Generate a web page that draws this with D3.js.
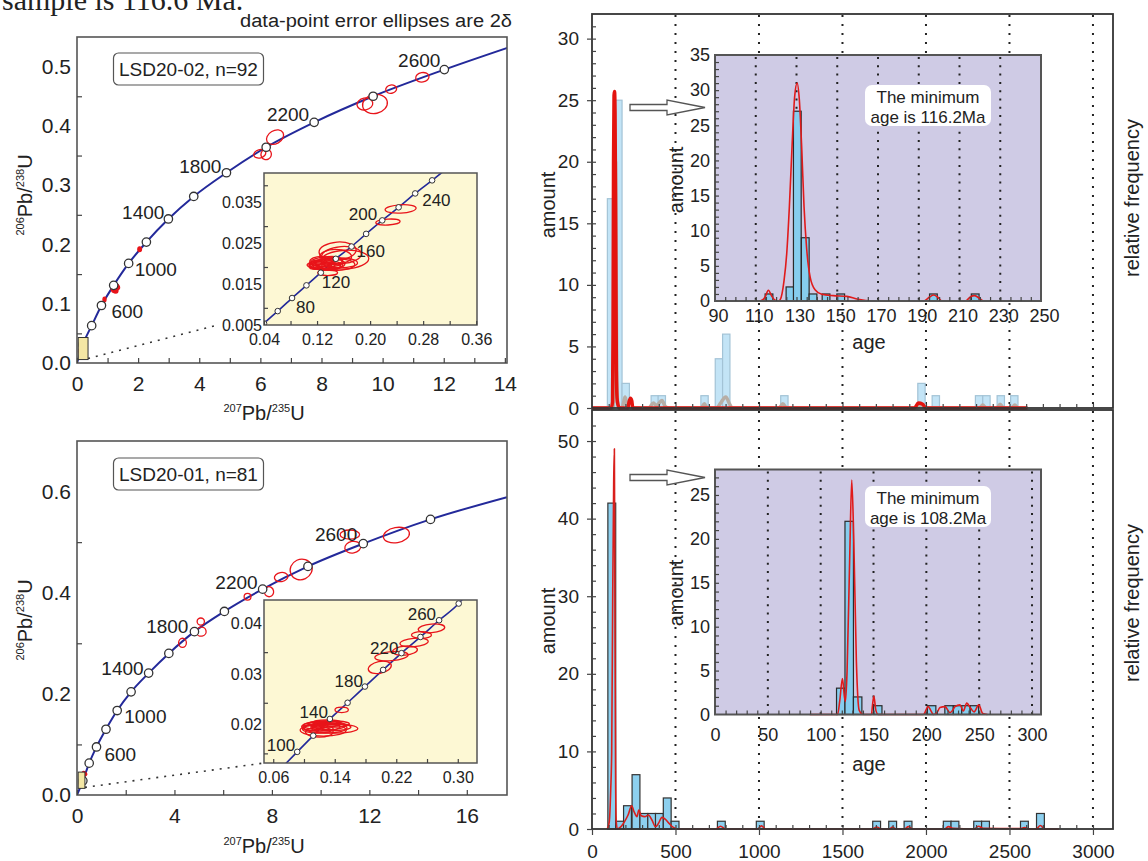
<!DOCTYPE html>
<html lang="en">
<head>
<meta charset="UTF-8">
<title>Concordia diagrams and age histograms</title>
<script src="https://cdn.jsdelivr.net/npm/d3@7"></script>
<style>
    body { margin: 0; background: #fff; }
    svg text { font-family: "Liberation Sans", Arial, sans-serif; fill: #222; }
</style>
</head>
<body>
<script>
// ------------------------------ data : LSD20-02 concordia (upper left) ------------------------------
var ageA = [200, 400, 600, 800, 1000, 1200, 1400, 1600, 1800, 2000, 2200, 2400, 2600];
var markAx = [0.19, 0.48, 0.80, 1.20, 1.69, 2.27, 2.99, 3.82, 4.89, 6.19, 7.76, 9.69, 12.02];
var markAy = [0.031, 0.063, 0.097, 0.131, 0.168, 0.204, 0.243, 0.281, 0.321, 0.364, 0.406, 0.450, 0.495];
var endA = [14.1, 0.532];
// ellipses: cx, cy, rx, ry, tilt
var ellA = [[5.98, 0.353, 0.20, 0.007, -15], [6.19, 0.352, 0.17, 0.009, 20], [6.48, 0.381, 0.30, 0.011, -30],
    [9.42, 0.437, 0.26, 0.010, -10], [9.75, 0.437, 0.41, 0.016, -12], [10.28, 0.462, 0.18, 0.007, -10],
    [11.30, 0.482, 0.22, 0.008, -10]];
var dotsA = [[0.10, 0.020, 0.05, 0.004, 0], [0.90, 0.107, 0.05, 0.004, 0], [2.05, 0.192, 0.06, 0.004, 0],
    [1.22, 0.124, 0.10, 0.005, -20], [1.30, 0.128, 0.09, 0.005, -20], [1.27, 0.122, 0.07, 0.004, 0]];

var ageAi = [40, 60, 80, 100, 120, 140, 160, 180, 200, 220, 240, 260];
var markAix = [0.040, 0.0607, 0.0823, 0.104, 0.1257, 0.1483, 0.172, 0.194, 0.2183, 0.243, 0.268, 0.2935];
var markAiy = [0.0062, 0.0092, 0.0124, 0.0155, 0.0186, 0.0220, 0.0250, 0.0281, 0.0314, 0.0346, 0.0380, 0.0412];
var startAi = [0.03, 0.0047], endAi = [0.315, 0.0440];
var ellAi = [[0.151, 0.0239, 0.028, 0.0022, -4], [0.157, 0.0229, 0.030, 0.0021, -4], [0.148, 0.0225, 0.024, 0.0018, 0],
    [0.135, 0.0212, 0.024, 0.0012, 0], [0.128, 0.0207, 0.020, 0.0011, 0], [0.132, 0.0205, 0.027, 0.0010, 0],
    [0.140, 0.0208, 0.022, 0.0013, 0], [0.125, 0.0203, 0.017, 0.0009, 0], [0.145, 0.0206, 0.032, 0.0015, 0],
    [0.130, 0.0210, 0.014, 0.0008, 0], [0.138, 0.0202, 0.018, 0.0009, 0], [0.120, 0.0206, 0.012, 0.0008, 0],
    [0.162, 0.0218, 0.036, 0.0023, -3], [0.142, 0.0216, 0.016, 0.0010, 0], [0.133, 0.0200, 0.022, 0.0007, 0],
    [0.127, 0.0213, 0.018, 0.0013, 0], [0.136, 0.0186, 0.015, 0.0007, 0], [0.118, 0.0201, 0.010, 0.0007, 0],
    [0.155, 0.0210, 0.026, 0.0012, 0], [0.2269, 0.0310, 0.0184, 0.00073, -3], [0.246, 0.0342, 0.0234, 0.00102, -3]];

// ------------------------------ data : LSD20-01 concordia (lower left) ------------------------------
var ageB = [200, 400, 600, 800, 1000, 1200, 1400, 1600, 1800, 2000, 2200, 2400, 2600, 2800];
var markBx = [0.24, 0.50, 0.80, 1.19, 1.65, 2.22, 2.94, 3.77, 4.82, 6.05, 7.62, 9.48, 11.75, 14.51];
var markBy = [0.028, 0.063, 0.095, 0.130, 0.167, 0.204, 0.241, 0.280, 0.323, 0.363, 0.407, 0.452, 0.497, 0.545];
var endB = [17.65, 0.589];
var ellB = [[4.33, 0.301, 0.16, 0.009, 0], [5.08, 0.343, 0.15, 0.007, 0], [5.10, 0.323, 0.20, 0.009, -10],
    [7.00, 0.392, 0.14, 0.0065, 0], [7.88, 0.402, 0.19, 0.010, -10], [8.38, 0.431, 0.28, 0.009, -10],
    [9.20, 0.446, 0.46, 0.020, -25], [11.20, 0.515, 0.40, 0.009, 0], [11.32, 0.490, 0.33, 0.0115, -10],
    [13.11, 0.514, 0.54, 0.015, -10]];
var dotsB = [[0.15, 0.022, 0.05, 0.004, -55], [0.30, 0.042, 0.08, 0.005, -55], [0.45, 0.062, 0.06, 0.004, -50]];

var ageBi = [100, 120, 140, 160, 180, 200, 220, 240, 260, 280];
var markBix = [0.0912, 0.112, 0.1337, 0.1567, 0.1792, 0.2029, 0.2268, 0.2515, 0.2757, 0.3012];
var markBiy = [0.0153, 0.0185, 0.0218, 0.0250, 0.0282, 0.0315, 0.0348, 0.0380, 0.0413, 0.0446];
var startBi = [0.07, 0.0120], endBi = [0.31, 0.0462];
var ellBi = [[0.122, 0.0203, 0.025, 0.0009, 0], [0.128, 0.0200, 0.028, 0.0010, 0], [0.118, 0.0198, 0.020, 0.0008, 0],
    [0.132, 0.0205, 0.022, 0.0008, 0], [0.125, 0.0196, 0.030, 0.0012, 0], [0.135, 0.0202, 0.026, 0.0007, 0],
    [0.115, 0.0205, 0.016, 0.0007, 0], [0.126, 0.0208, 0.020, 0.0006, 0], [0.140, 0.0199, 0.030, 0.0009, 0],
    [0.120, 0.0192, 0.018, 0.0010, 0], [0.130, 0.0211, 0.018, 0.0005, 0], [0.110, 0.0201, 0.012, 0.0006, 0],
    [0.137, 0.0208, 0.022, 0.0006, 0], [0.149, 0.0236, 0.0087, 0.00053, 0], [0.1986, 0.0320, 0.0152, 0.00115, -12],
    [0.2138, 0.0342, 0.0217, 0.00089, -5], [0.2313, 0.0353, 0.0162, 0.00089, -5], [0.2432, 0.0369, 0.0184, 0.00083, -5],
    [0.2528, 0.0384, 0.0130, 0.00066, 0], [0.2658, 0.0397, 0.0173, 0.00085, -5]];

// ------------------------------ data : age histograms (right) ------------------------------
var topBinStart = [92, 136, 180, 354, 396, 652, 738, 782, 1130, 1951, 2037, 2296, 2340, 2426, 2507];
var topCounts = [17, 25, 2, 1, 1, 1, 4, 6, 1, 2, 1, 1, 1, 1, 1];
var topBinWidth = 44;
var topRed = [[0, 0], [115, 0], [123, 0.5], [126, 6], [129, 20], [132, 25.4], [135, 25.7], [138, 24], [142, 14], [146, 3],
    [150, 0.8], [155, 0.3], [165, 0], [215, 0], [222, 0.5], [230, 0.8], [238, 0.6], [244, 0], [1930, 0], [1955, 0.4],
    [1980, 0.3], [2000, 0], [2608, 0]];
var topGrey = [[0, 0], [125, 0], [133, 3], [137, 14], [141, 20], [144, 14], [148, 3], [153, 0.5], [160, 0], [180, 0],
    [190, 0.5], [198, 0.9], [206, 0.5], [214, 0], [340, 0], [368, 0.4], [385, 0.2], [419, 0.6], [440, 0.1], [460, 0],
    [655, 0], [673, 0.35], [690, 0], [745, 0], [770, 0.4], [801, 0.9], [825, 0.3], [840, 0], [1120, 0], [1143, 0.35],
    [1165, 0], [1950, 0], [1970, 0.35], [1990, 0], [2320, 0], [2340, 0.25], [2360, 0], [2425, 0], [2444, 0.3],
    [2465, 0], [2512, 0], [2532, 0.25], [2550, 0], [2600, 0]];

var botBinStart = [95, 142, 189, 240, 287, 334, 380, 427, 474, 751, 984, 1681, 1777, 1869, 2104, 2150, 2286, 2333, 2566, 2662];
var botCounts = [42, 1, 3, 7, 2, 2, 2, 4, 1, 1, 1, 1, 1, 1, 1, 1, 1, 1, 1, 2];
var botBinWidth = 47;
var botRed = [[90, 0], [100, 0.5], [106, 1.6], [112, 5], [118, 10], [124, 30], [130, 45], [134, 49], [137, 30], [141, 8],
    [145, 1], [152, 0], [173.6, 0.3], [194.9, 0.95], [216, 1.8], [237.5, 3.0], [252.4, 2.2], [269.5, 1.6], [280, 2.45],
    [295, 1.7], [316.4, 1.6], [337.7, 1.8], [359, 1.16], [380.4, 0.3], [397.4, 0.7], [418.8, 1.5], [440, 1.25],
    [461.4, 0.73], [487, 0.2], [515, 0], [740, 0], [770, 0.35], [800, 0], [990, 0], [1015, 0.4], [1040, 0],
    [1680, 0], [1705, 0.25], [1730, 0], [1780, 0], [1800, 0.25], [1820, 0], [1870, 0], [1895, 0.3], [1920, 0],
    [2110, 0], [2135, 0.3], [2160, 0.1], [2290, 0], [2315, 0.35], [2340, 0.1], [2570, 0.05], [2590, 0.2], [2620, 0],
    [2660, 0], [2685, 0.45], [2710, 0], [2796, 0]];

// zoomed insets
var insTopStart = [114.6, 124.9, 128.5, 132.4, 136.2, 142.6, 149.8, 195.3, 215.8];
var insTopCounts = [1, 2, 27, 9, 1, 1, 1, 1, 1];
var insTopWidth = 3.8;
var insTopRed = [[90, 0], [112.1, 0], [114.6, 0.57], [116.2, 1.52], [117.9, 0.66], [119.5, 0.1], [121.1, 0], [122, 0.19],
    [123.9, 2.94], [125.2, 6.74], [126.5, 13.4], [127.8, 21.9], [129.1, 29.1], [130.3, 31.0], [131.4, 28.6],
    [132.6, 21.5], [133.7, 13.4], [135, 7.4], [136.7, 3.4], [139.1, 1.6], [142.4, 0.95], [148.1, 0.76], [154.7, 0.66],
    [159.6, 0.28], [167.8, 0], [192.4, 0], [195.3, 0.57], [197.3, 0.85], [199.2, 0.57], [201.4, 0], [212.9, 0],
    [215.3, 0.57], [217.3, 0.76], [219.4, 0.47], [221.8, 0], [250, 0]];

var insBotStart = [115, 123, 131, 150, 201, 217.5, 225.5, 233.5, 241.5];
var insBotCounts = [3, 22, 2, 1, 1, 1, 1, 1, 1];
var insBotWidth = 8;
var insBotRed = [[89.6, 0], [116, 0], [118, 1.5], [120.6, 4.1], [122.5, 2], [123.5, 1.5], [125, 5], [127.5, 18],
    [129.4, 26.7], [131.3, 20], [133.8, 6], [136.4, 0.5], [140.2, 0], [148, 0], [149, 1], [150.3, 2.1], [152.2, 0.5],
    [154.4, 0], [197.1, 0], [201.8, 0.9], [204, 0.5], [206.6, 0], [210, 0.2], [212.9, 0.8], [217.6, 0.9], [222.4, 0.2],
    [225, 0.5], [227.1, 0.9], [231.9, 1.1], [235, 0.4], [238.2, 1.3], [242, 0.7], [245.2, 0.3], [249.6, 1.1],
    [253.4, 0.1], [257.8, 0]];

// ------------------------------ helpers ------------------------------
var svg = d3.select("body").append("svg").attr("width", 1148).attr("height", 861);
svg.append("rect").attr("width", 1148).attr("height", 861).attr("fill", "#fff");
var defs = svg.append("defs");

function putAxis(parent, gen, tx, ty, fs) {
    var a = parent.append("g").attr("transform", "translate(" + tx + "," + ty + ")").call(gen);
    a.attr("font-family", null).attr("font-size", null);
    a.select(".domain").remove();
    a.selectAll(".tick line").attr("stroke", "#444").attr("stroke-width", 1.2);
    a.selectAll(".tick text").attr("font-size", fs || 10).attr("fill", "#222");
    return a;
}

function ellipse(g, x, y, e, filled) {
    var cx = x(e[0]), cy = y(e[1]);
    g.append("ellipse").attr("cx", cx).attr("cy", cy)
        .attr("rx", Math.abs(x(e[0] + e[2]) - cx)).attr("ry", Math.abs(y(e[1] + e[3]) - cy))
        .attr("transform", "rotate(" + e[4] + "," + cx + "," + cy + ")")
        .attr("fill", filled ? "#e8141a" : "none").attr("stroke", "#e8141a").attr("stroke-width", 1.3);
}

function clip(id, l, t, r, b) {
    defs.append("clipPath").attr("id", id).append("rect").attr("x", l).attr("y", t).attr("width", r - l).attr("height", b - t);
    return "url(#" + id + ")";
}

function isoText(g, tx, ty, a, b, c, d, rot) { // 206Pb/238U style label
    var t = g.append("text").attr("transform", "translate(" + tx + "," + ty + ")" + (rot ? " rotate(-90)" : ""))
        .attr("text-anchor", "middle").attr("font-size", 20);
    t.append("tspan").attr("font-size", 11).attr("dy", -8).text(a);
    t.append("tspan").attr("dy", 8).text(b);
    t.append("tspan").attr("font-size", 11).attr("dy", -8).text(c);
    t.append("tspan").attr("dy", 8).text(d);
}

function concordiaLine(x, y, pts, g, w) {
    g.append("path").attr("d", d3.line().x(d => x(d[0])).y(d => y(d[1])).curve(d3.curveMonotoneX)(pts))
        .attr("fill", "none").attr("stroke", "#23299a").attr("stroke-width", w);
}

function markers(g, x, y, mx, my, r) {
    g.selectAll(null).data(mx).enter().append("circle")
        .attr("cx", d => x(d)).attr("cy", (d, i) => y(my[i])).attr("r", r)
        .attr("fill", "#fff").attr("stroke", "#333").attr("stroke-width", r > 3.5 ? 1.3 : 1);
}

function ageLabels(g, x, y, ages, mx, my, offs, fs) {
    Object.keys(offs).forEach(function(k) {
        var i = ages.indexOf(+k), o = offs[k];
        g.append("text").attr("x", x(mx[i]) + o[0]).attr("y", y(my[i]) + o[1]).attr("text-anchor", o[2])
            .attr("font-size", fs).text(k);
    });
}

// ------------------------------ concordia panel ------------------------------
function concordia(p) {
    var g = svg.append("g");
    var x = d3.scaleLinear().domain(p.xDom).range([p.l, p.r]);
    var y = d3.scaleLinear().domain(p.yDom).range([p.b, p.t]);
    var inner = g.append("g").attr("clip-path", clip(p.id, p.l, p.t, p.r, p.b));

    concordiaLine(x, y, [[0, 0]].concat(p.mx.map((v, i) => [v, p.my[i]])).concat([p.end]), inner, 2);
    p.ell.forEach(e => ellipse(inner, x, y, e, false));
    p.dots.forEach(e => ellipse(inner, x, y, e, true));
    markers(inner, x, y, p.mx, p.my, 4.2);
    ageLabels(g, x, y, p.ages, p.mx, p.my, p.labels, 19);

    // little box at the origin showing the zoomed field
    var q = p.inset;
    g.append("rect").attr("x", x(q.xDom[0])).attr("y", y(q.yDom[1]))
        .attr("width", x(q.xDom[1]) - x(q.xDom[0])).attr("height", y(q.yDom[0]) - y(q.yDom[1]))
        .attr("fill", "#f4e7a4").attr("stroke", "#333").attr("stroke-width", 1);
    g.append("line").attr("x1", x(q.xDom[1])).attr("y1", y(q.yDom[0]) - 1).attr("x2", q.leadX).attr("y2", q.leadY)
        .attr("stroke", "#333").attr("stroke-width", 1.6).attr("stroke-dasharray", "2,6");

    // frame + axes
    g.append("rect").attr("x", p.l).attr("y", p.t).attr("width", p.r - p.l).attr("height", p.b - p.t)
        .attr("fill", "none").attr("stroke", "#555").attr("stroke-width", 1.6);
    var ax = putAxis(g, d3.axisBottom(x).tickValues(p.xTicks).tickSize(-5).tickFormat(d3.format("d")), 0, p.b, 21);
    ax.selectAll(".tick text").attr("y", 28).attr("dy", null);
    putAxis(g, d3.axisBottom(x).tickValues(p.xMinor).tickSize(-5).tickFormat(""), 0, p.b);
    putAxis(g, d3.axisLeft(y).tickValues(p.yTicks).tickSize(0).tickPadding(6).tickFormat(d3.format(".1f")), p.l, 0, 21);
    putAxis(g, d3.axisLeft(y).tickValues(p.yMinor).tickSize(-5).tickFormat(""), p.l, 0);

    // sample box
    g.append("rect").attr("x", 113.5).attr("y", p.boxY).attr("width", 150).attr("height", 32).attr("rx", 5)
        .attr("fill", "#fff").attr("stroke", "#555").attr("stroke-width", 1.2);
    g.append("text").attr("x", 188.5).attr("y", p.boxY + 23).attr("text-anchor", "middle").attr("font-size", 19).text(p.name);

    isoText(g, 32, p.yLabelY, "206", "Pb/", "238", "U", true);
    isoText(g, 264, p.xLabelY, "207", "Pb/", "235", "U", false);

    // inset
    var xi = d3.scaleLinear().domain(q.xDom).range([q.l, q.r]);
    var yi = d3.scaleLinear().domain(q.yDom).range([q.b, q.t]);
    g.append("rect").attr("x", q.l).attr("y", q.t).attr("width", q.r - q.l).attr("height", q.b - q.t).attr("fill", "#fdf8d4");
    var ig = g.append("g").attr("clip-path", clip(p.id + "i", q.l, q.t, q.r, q.b));
    concordiaLine(xi, yi, [q.start].concat(q.mx.map((v, i) => [v, q.my[i]])).concat([q.end]), ig, 1.6);
    q.ell.forEach(e => ellipse(ig, xi, yi, e, false));
    markers(ig, xi, yi, q.mx, q.my, 2.8);
    ageLabels(g, xi, yi, q.ages, q.mx, q.my, q.labels, 17);
    g.append("rect").attr("x", q.l).attr("y", q.t).attr("width", q.r - q.l).attr("height", q.b - q.t)
        .attr("fill", "none").attr("stroke", "#555").attr("stroke-width", 1.5);
    var bx = putAxis(g, d3.axisBottom(xi).tickValues(q.xTicks).tickSize(-4).tickFormat(d3.format(".2f")), 0, q.b, 16);
    bx.selectAll(".tick text").attr("y", 20).attr("dy", null);
    putAxis(g, d3.axisBottom(xi).tickValues(q.xMinor).tickSize(-4).tickFormat(""), 0, q.b);
    var ly = putAxis(g, d3.axisLeft(yi).tickValues(q.yTicks).tickSize(0).tickPadding(2).tickFormat(d3.format(q.yFmt)), q.l, 0, 16);
    ly.selectAll(".tick text").attr("dy", "0.12em");
    putAxis(g, d3.axisLeft(yi).tickValues(q.yMinor).tickSize(-4).tickFormat(""), q.l, 0);
}

// top-of-page fragments
svg.append("text").attr("x", 2).attr("y", 10).attr("font-size", 30)
    .style("font-family", "'Liberation Serif', 'Times New Roman', serif").text("sample is 116.6 Ma.");
svg.append("text").attr("x", 512).attr("y", 27).attr("text-anchor", "end").attr("font-size", 18).attr("fill", "#333")
    .attr("textLength", 272).attr("lengthAdjust", "spacingAndGlyphs")
    .text("data-point error ellipses are 2δ");

concordia({
    id: "ca", l: 77, r: 507, t: 37, b: 363, xDom: [0, 14.07], yDom: [0, 0.55],
    xTicks: [0, 2, 4, 6, 8, 10, 12, 14], xMinor: [1, 3, 5, 7, 9, 11, 13],
    yTicks: [0, 0.1, 0.2, 0.3, 0.4, 0.5], yMinor: [0.05, 0.15, 0.25, 0.35, 0.45],
    ages: ageA, mx: markAx, my: markAy, end: endA, ell: ellA, dots: dotsA,
    labels: {600: [10, 12, "start"], 1000: [6, 13, "start"], 1400: [-4, 0, "end"], 1800: [-5, 0, "end"], 2200: [-5, -1, "end"], 2600: [-4, -3, "end"]},
    boxY: 53, name: "LSD20-02, n=92", yLabelY: 195, xLabelY: 420,
    inset: {
        l: 264, r: 477, t: 173, b: 325, xDom: [0.04, 0.3612], yDom: [0.0058, 0.043],
        leadX: 214, leadY: 326,
        xTicks: [0.04, 0.12, 0.20, 0.28, 0.36], xMinor: [0.08, 0.16, 0.24, 0.32],
        yTicks: [0.005, 0.015, 0.025, 0.035], yMinor: [0.01, 0.02, 0.03, 0.04], yFmt: ".3f",
        ages: ageAi, mx: markAix, my: markAiy, start: startAi, end: endAi, ell: ellAi,
        labels: {80: [4, 15, "start"], 120: [1, 15, "start"], 160: [5, 10, "start"], 200: [-5, 0, "end"], 240: [7, 13, "start"]}
    }
});

concordia({
    id: "cb", l: 77, r: 507, t: 441, b: 795, xDom: [0, 17.65], yDom: [0, 0.70],
    xTicks: [0, 4, 8, 12, 16], xMinor: [2, 6, 10, 14],
    yTicks: [0, 0.2, 0.4, 0.6], yMinor: [0.1, 0.3, 0.5],
    ages: ageB, mx: markBx, my: markBy, end: endB, ell: ellB, dots: dotsB,
    labels: {600: [8, 14, "start"], 1000: [7, 12, "start"], 1400: [-5, 2, "end"], 1800: [-6, 1, "end"], 2200: [-5, 0, "end"], 2600: [-6, -3, "end"]},
    boxY: 458, name: "LSD20-01, n=81", yLabelY: 620, xLabelY: 853,
    inset: {
        l: 264, r: 477, t: 600, b: 763, xDom: [0.048, 0.325], yDom: [0.0131, 0.0453],
        leadX: 264, leadY: 763,
        xTicks: [0.06, 0.14, 0.22, 0.30], xMinor: [0.10, 0.18, 0.26],
        yTicks: [0.02, 0.03, 0.04], yMinor: [0.015, 0.025, 0.035], yFmt: ".2f",
        ages: ageBi, mx: markBix, my: markBiy, start: startBi, end: endBi, ell: ellBi,
        labels: {100: [-2, -1, "end"], 140: [-2, -1, "end"], 180: [-2, 0, "end"], 220: [-3, 1, "end"], 260: [-3, 0, "end"]}
    }
});

// ------------------------------ histograms ------------------------------
var xAge = d3.scaleLinear().domain([0, 3120]).range([592, 1113]);
var RL = 592, RR = 1113;
var rg = svg.append("g");

// dotted guides through both panels
rg.selectAll(null).data([500, 1000, 1500, 2000, 2500, 3000]).enter().append("line")
    .attr("x1", d => xAge(d)).attr("x2", d => xAge(d)).attr("y1", 15).attr("y2", 828)
    .attr("stroke", "#222").attr("stroke-width", 2).attr("stroke-dasharray", "2,7");

function bars(g, x, y, starts, counts, w, fill, stroke) {
    g.selectAll(null).data(starts).enter().append("rect")
        .attr("x", d => x(d)).attr("width", d => x(d + w) - x(d))
        .attr("y", (d, i) => y(counts[i])).attr("height", (d, i) => y(0) - y(counts[i]))
        .attr("fill", fill).attr("stroke", stroke).attr("stroke-width", 1.2);
}

function curve(g, x, y, pts, col, w) {
    g.append("path").attr("d", d3.line().x(d => x(d[0])).y(d => y(d[1])).curve(d3.curveMonotoneX)(pts))
        .attr("fill", "none").attr("stroke", col).attr("stroke-width", w).attr("stroke-linejoin", "round");
}

// upper panel
var yTop = d3.scaleLinear().domain([0, 32]).range([408, 14]);
bars(rg, xAge, yTop, topBinStart, topCounts, topBinWidth, "#c3e4f6", "#a3c3d6");
curve(rg, xAge, yTop, topGrey, "#b7aea6", 3.5);
curve(rg, xAge, yTop, topRed, "#e3140f", 3.5);
rg.append("rect").attr("x", RL).attr("y", 14).attr("width", RR - RL).attr("height", 394)
    .attr("fill", "none").attr("stroke", "#333").attr("stroke-width", 1.8);
putAxis(rg, d3.axisLeft(yTop).tickValues([0, 5, 10, 15, 20, 25, 30]).tickSize(5).tickPadding(8), RL, 0, 19);
putAxis(rg, d3.axisLeft(yTop).tickValues(d3.range(1, 32)).tickSize(-4).tickFormat(""), RL, 0);
putAxis(rg, d3.axisBottom(xAge).tickValues(d3.range(100, 3100, 100)).tickSize(-4).tickFormat(""), 0, 408);

// lower panel
var yBot = d3.scaleLinear().domain([0, 54]).range([829, 410]);
bars(rg, xAge, yBot, botBinStart, botCounts, botBinWidth, "#8dd0ef", "#333");
curve(rg, xAge, yBot, botRed, "#d91f1c", 1.6);
rg.append("rect").attr("x", RL).attr("y", 410).attr("width", RR - RL).attr("height", 419)
    .attr("fill", "none").attr("stroke", "#333").attr("stroke-width", 1.8);
putAxis(rg, d3.axisLeft(yBot).tickValues([0, 10, 20, 30, 40, 50]).tickSize(5).tickPadding(8), RL, 0, 19);
putAxis(rg, d3.axisLeft(yBot).tickValues(d3.range(2, 54, 2)).tickSize(-4).tickFormat(""), RL, 0);
var xb = putAxis(rg, d3.axisBottom(xAge).tickValues([0, 500, 1000, 1500, 2000, 2500, 3000]).tickSize(6).tickFormat(d3.format("d")), 0, 829, 19);
xb.selectAll(".tick text").attr("y", 29).attr("dy", null);
putAxis(rg, d3.axisBottom(xAge).tickValues(d3.range(100, 3100, 100)).tickSize(-4).tickFormat(""), 0, 829);

function vText(g, x, y, s, fs) {
    g.append("text").attr("transform", "translate(" + x + "," + y + ") rotate(-90)").attr("text-anchor", "middle")
        .attr("font-size", fs).text(s);
}
vText(rg, 555, 205, "amount", 20);
vText(rg, 555, 621, "amount", 20);
vText(rg, 1139, 198, "relative frequency", 20);
vText(rg, 1139, 603, "relative frequency", 20);

// ------------------------------ zoomed insets ------------------------------
function inset(q) {
    var g = svg.append("g");
    var x = d3.scaleLinear().domain(q.xDom).range([715, 1041]);
    var y = d3.scaleLinear().domain(q.yDom).range([q.b, q.t]);
    g.append("rect").attr("x", 715).attr("y", q.t).attr("width", 326).attr("height", q.b - q.t).attr("fill", "#cfcbe5");
    g.selectAll(null).data(q.grid).enter().append("line")
        .attr("x1", d => x(d)).attr("x2", d => x(d)).attr("y1", q.t + 2).attr("y2", q.b)
        .attr("stroke", "#222").attr("stroke-width", 2).attr("stroke-dasharray", "2,6.3");
    bars(g, x, y, q.starts, q.counts, q.w, "#86cdee", "#2a2a2a");
    curve(g, x, y, q.red, "#e01b1b", 1.6);
    g.append("rect").attr("x", 715).attr("y", q.t).attr("width", 326).attr("height", q.b - q.t)
        .attr("fill", "none").attr("stroke", "#555").attr("stroke-width", 2);
    putAxis(g, d3.axisLeft(y).tickValues(q.yTicks).tickSize(0).tickPadding(5), 715, 0, 18);
    putAxis(g, d3.axisLeft(y).tickValues(q.yMinor).tickSize(-4).tickFormat(""), 715, 0);
    var a = putAxis(g, d3.axisBottom(x).tickValues(q.xTicks).tickSize(0), 0, q.b, 18);
    a.selectAll(".tick text").attr("y", q.labDy).attr("dy", null).attr("dx", q.labDx);
    putAxis(g, d3.axisBottom(x).tickValues(q.xMinor).tickSize(-4).tickFormat(""), 0, q.b);
    vText(g, 683, q.amountY, "amount", 20);
    g.append("text").attr("x", 869).attr("y", q.ageY).attr("text-anchor", "middle").attr("font-size", 20).text("age");
    // note
    g.append("rect").attr("x", 865).attr("y", q.noteY).attr("width", 126).attr("height", 41).attr("rx", 7).attr("fill", "#fff");
    g.append("text").attr("x", 928).attr("y", q.noteY + 18).attr("text-anchor", "middle").attr("font-size", 17).text("The minimum");
    g.append("text").attr("x", 928).attr("y", q.noteY + 37.5).attr("text-anchor", "middle").attr("font-size", 17).text(q.note);
    // arrow from the main plot
    var ay = q.arrowY;
    g.append("path").attr("d", "M630," + (ay - 3) + "H667V" + (ay - 7.5) + "L705," + ay + "L667," + (ay + 7.5) + "V" + (ay + 3) + "H630Z")
        .attr("fill", "#fff").attr("stroke", "#555").attr("stroke-width", 1.3);
}

inset({
    t: 55, b: 301, xDom: [90, 250], yDom: [0, 35],
    grid: [110, 130, 150, 170, 190, 210, 230],
    xTicks: [90, 110, 130, 150, 170, 190, 210, 230, 250], xMinor: d3.range(95, 250, 5),
    yTicks: [0, 5, 10, 15, 20, 25, 30, 35], yMinor: d3.range(1, 35),
    starts: insTopStart, counts: insTopCounts, w: insTopWidth, red: insTopRed,
    labDy: 21, labDx: 3, amountY: 180, ageY: 349, noteY: 85, note: "age is 116.2Ma", arrowY: 107.5
});

inset({
    t: 469.5, b: 714.5, xDom: [0, 308.5], yDom: [0, 27.9],
    grid: [50, 100, 150, 200, 250, 300],
    xTicks: [0, 50, 100, 150, 200, 250, 300], xMinor: d3.range(10, 310, 10),
    yTicks: [0, 5, 10, 15, 20, 25], yMinor: d3.range(1, 28),
    starts: insBotStart, counts: insBotCounts, w: insBotWidth, red: insBotRed,
    labDy: 26, labDx: 0, amountY: 593, ageY: 771, noteY: 486, note: "age is 108.2Ma", arrowY: 477.5
});
</script>
</body>
</html>
